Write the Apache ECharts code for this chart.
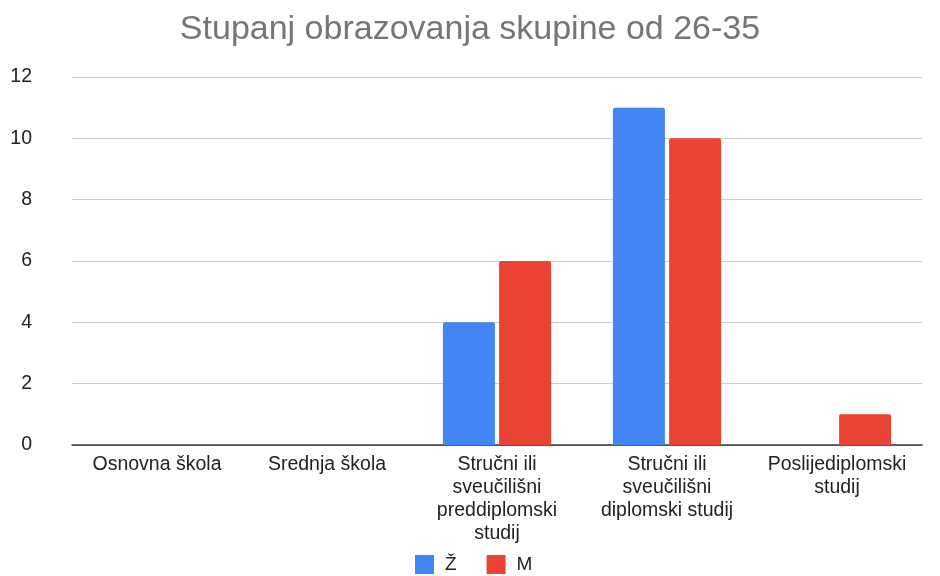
<!DOCTYPE html>
<html>
<head>
<meta charset="utf-8">
<script src="https://cdn.jsdelivr.net/npm/echarts@6/dist/echarts.min.js"></script>
<style>
  html, body { margin: 0; padding: 0; background: #fff; }
  #chart { width: 940px; height: 576px; }
</style>
</head>
<body>
<div id="chart"></div>
<script>
// podaci
var categories = ['Osnovna škola', 'Srednja škola', 'Stručni ili\nsveučilišni\npreddiplomski\nstudij', 'Stručni ili\nsveučilišni\ndiplomski studij', 'Poslijediplomski\nstudij'];
var zValues = [0, 0, 4, 11, 0];
var mValues = [0, 0, 6, 10, 1];
var seriesNames = ['Ž', 'M'];

var myChart = echarts.init(document.getElementById('chart'));
var option = {
  backgroundColor: '#fff',
  textStyle: { fontFamily: 'Arial, "Liberation Sans", sans-serif' },
  title: {
    text: 'Stupanj obrazovanja skupine od 26-35',
    left: 'center',
    top: 8,
    textStyle: { fontSize: 34, fontWeight: 'normal', color: '#757575', fontFamily: 'Arial, "Liberation Sans", sans-serif' }
  },
  legend: {
    data: seriesNames,
    top: 555,
    left: 415,
    padding: 0,
    itemWidth: 19,
    itemHeight: 19,
    itemGap: 30,
    icon: 'rect',
    textStyle: { fontSize: 19, color: '#222', padding: [0, 0, 0, 6] }
  },
  grid: { left: 72, right: 18, top: 77, bottom: 131 },
  xAxis: {
    type: 'category',
    data: categories,
    axisLine: { lineStyle: { color: '#333', width: 1.5 } },
    axisTick: { show: false },
    axisLabel: { color: '#222', fontSize: 19.5, lineHeight: 23, margin: 8, interval: 0 }
  },
  yAxis: {
    type: 'value',
    min: 0,
    max: 12,
    interval: 2,
    axisLine: { show: false },
    axisTick: { show: false },
    axisLabel: { color: '#222', fontSize: 19.5, margin: 40 },
    splitLine: { lineStyle: { color: '#cccccc', width: 1 } }
  },
  series: [
    {
      name: seriesNames[0],
      type: 'bar',
      data: zValues,
      barWidth: 52,
      barGap: '8%',
      itemStyle: { color: '#4285F4', borderRadius: [2, 2, 0, 0] }
    },
    {
      name: seriesNames[1],
      type: 'bar',
      data: mValues,
      barWidth: 52,
      barGap: '8%',
      itemStyle: { color: '#EA4335', borderRadius: [2, 2, 0, 0] }
    }
  ]
};
myChart.setOption(option);
</script>
</body>
</html>
